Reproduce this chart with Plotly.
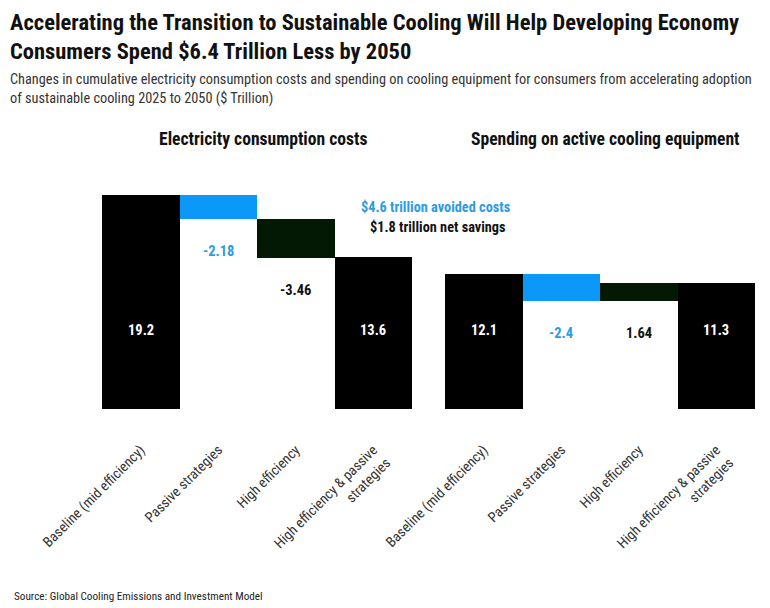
import plotly.graph_objects as go

# ---- data ----
categories = ["Baseline (mid efficiency)", "Passive strategies", "High efficiency",
              "High efficiency & passive<br>strategies"]
elec_start = 19.2
elec_changes = [-2.18, -3.46]
elec_total = 13.6
equip_start = 12.1
equip_changes = [-2.4, 1.64]
equip_total = 11.3
elec_labels = ["19.2", "-2.18", "-3.46", "13.6"]
equip_labels = ["12.1", "-2.4", "1.64", "11.3"]
title_lines = ["Accelerating the Transition to Sustainable Cooling Will Help Developing Economy",
               "Consumers Spend $6.4 Trillion Less by 2050"]

BLACK = "#000000"
BLUE = "#0B98F8"
GREEN = "#031903"
BLUE_TXT = "#2E9BE0"
FONT = "Roboto Condensed, Liberation Sans Narrow, Roboto, Arial"

# page body has an 8px margin: the figure is drawn 8px in from the window edge
OFF = 8
W, H = 770 - OFF, 608 - OFF
PLOT_TOP, PLOT_BOT = 150 - OFF, 409 - OFF
YMAX = (PLOT_BOT - PLOT_TOP) / 11.15


def px_x(p):
    return (p - OFF) / W


def px_y(p):
    return (PLOT_BOT - (p - OFF)) / (PLOT_BOT - PLOT_TOP)


def build(start, changes, total):
    bases, heights, bottoms = [0], [start], [0]
    level = start
    for c in changes:
        bases.append(level)
        heights.append(c)
        bottoms.append(min(level, level + c))
        level += c
    bases.append(0)
    heights.append(total)
    bottoms.append(0)
    return bases, heights, bottoms


fig = go.Figure()
colors = [BLACK, BLUE, GREEN, BLACK]
txt_colors = ["white", BLUE_TXT, "#111111", "white"]
annotations = []
for xa, start, changes, total, labels in [
    ("x", elec_start, elec_changes, elec_total, elec_labels),
    ("x2", equip_start, equip_changes, equip_total, equip_labels),
]:
    bases, heights, bottoms = build(start, changes, total)
    fig.add_trace(go.Bar(x=categories, y=heights, base=bases, xaxis=xa, yaxis="y",
                         marker=dict(color=colors, line=dict(width=0)),
                         hoverinfo="skip", showlegend=False))
    for i, cat in enumerate(categories):
        if i in (0, len(categories) - 1):
            ly = 7.0
        else:
            ly = bottoms[i] - 2.9
        annotations.append(dict(x=cat, y=ly, xref=xa, yref="y", text="<b>%s</b>" % labels[i],
                                xanchor="center", yanchor="middle",
                                showarrow=False, font=dict(size=14.5, color=txt_colors[i], family=FONT)))


def note(x, y, text, size, color, xanchor="center", yanchor="middle", align="center"):
    return dict(x=px_x(x), y=px_y(y), xref="paper", yref="paper", xanchor=xanchor,
                yanchor=yanchor, align=align, showarrow=False, text=text, borderpad=0,
                font=dict(size=size, color=color, family=FONT))


annotations += [
    note(9, 8, "<b>%s</b>" % "<br>".join(title_lines), 22.5, "#111111",
         xanchor="left", yanchor="top", align="left"),
    note(9, 70, "Changes in cumulative electricity consumption costs and spending on cooling equipment for consumers from accelerating adoption<br>"
                "of sustainable cooling 2025 to 2050 ($ Trillion)", 14.3, "#333333",
         xanchor="left", yanchor="top", align="left"),
    note(263, 139, "<b>Electricity consumption costs</b>", 17.6, "#111111"),
    note(605, 139, "<b>Spending on active cooling equipment</b>", 17.6, "#111111"),
    note(435, 207, "<b>$4.6 trillion avoided costs</b>", 14.3, BLUE_TXT),
    note(438, 227, "<b>$1.8 trillion net savings</b>", 14.3, "#111111"),
    note(13, 596, "Source: Global Cooling Emissions and Investment Model", 11.2, "#222222",
         xanchor="left"),
]

axis_common = dict(type="category", range=[-0.5, 3.5], tickangle=-45, showgrid=False,
                   zeroline=False, showline=False, ticks="outside", ticklen=26,
                   tickcolor="rgba(0,0,0,0)", tickfont=dict(size=14.2, color="#333333", family=FONT),
                   fixedrange=True, automargin=False)

fig.update_layout(
    width=W, height=H,
    margin=dict(l=0, r=0, t=PLOT_TOP, b=H - PLOT_BOT, pad=0),
    paper_bgcolor="white", plot_bgcolor="white",
    bargap=0,
    xaxis=dict(domain=[px_x(102), px_x(412)], anchor="y", **axis_common),
    xaxis2=dict(domain=[px_x(445), px_x(755)], anchor="y", **axis_common),
    yaxis=dict(range=[0, YMAX], visible=False, fixedrange=True, automargin=False),
    annotations=annotations,
    font=dict(family=FONT),
)

fig.write_html("out.html")
